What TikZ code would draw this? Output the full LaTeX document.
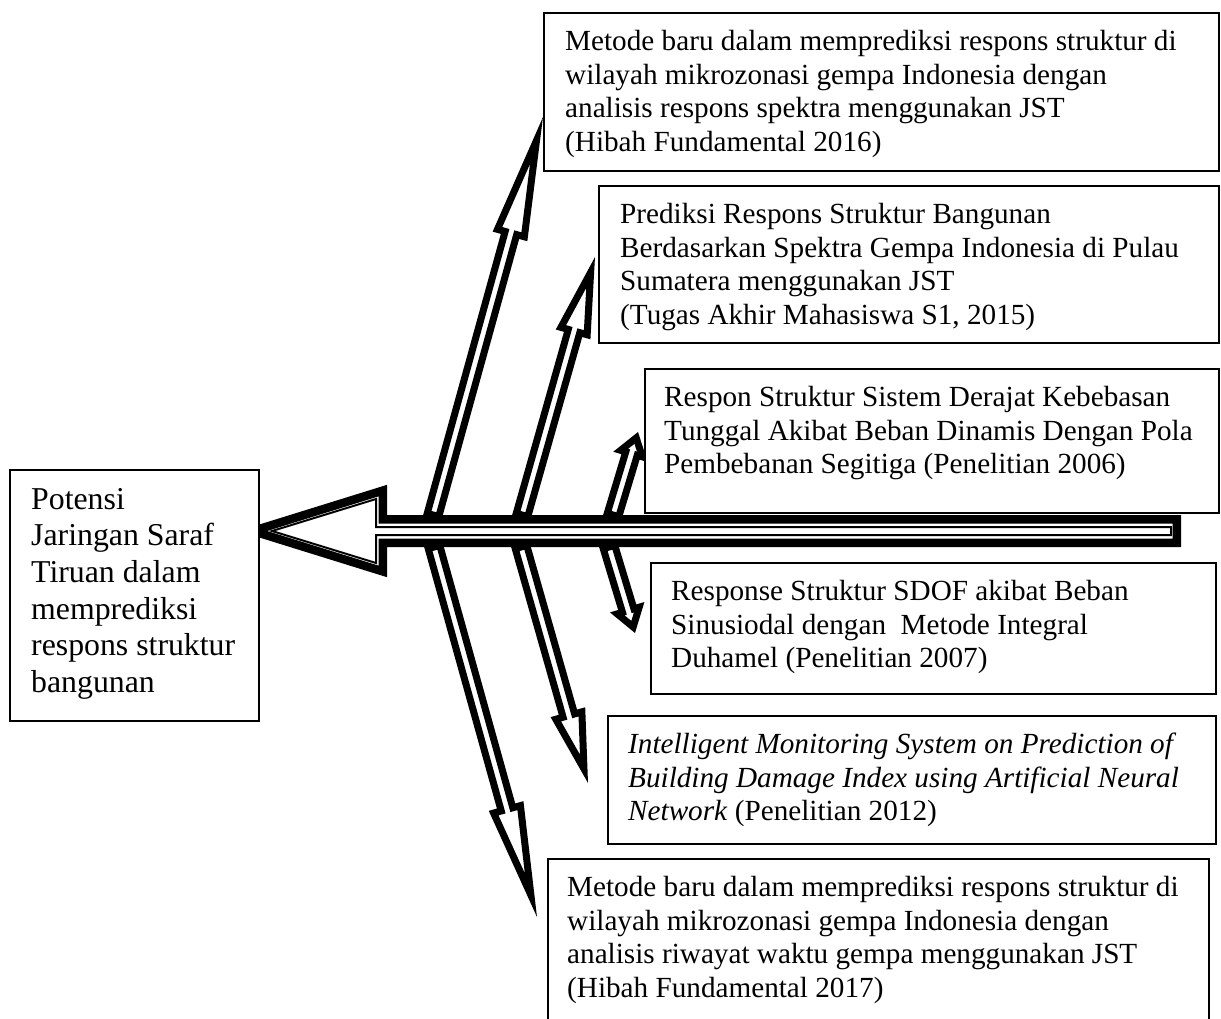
\documentclass[tikz,border=0pt]{standalone}
\usepackage{fontspec}
\setmainfont{Liberation Serif}
\usetikzlibrary{calc}
\tikzset{
  boxnode/.style={draw=black, line width=2pt, fill=white, inner sep=0pt, anchor=north west},
  txtR/.style={inner sep=0pt, anchor=north west, align=left, font=\fontsize{29.2}{33.6}\selectfont},
  txtL/.style={inner sep=0pt, anchor=north west, align=left, font=\fontsize{31.8}{36.6}\selectfont},
  branchline/.style={draw=black, line width=7pt, fill=white, line join=miter},
  mainthick/.style={draw=black, line width=8.5pt, fill=white, line join=miter},
  mainthin/.style={draw=black, line width=2pt, line join=miter},
  blk/.pic={
    \pgfmathsetmacro\bkD{#1}
    \pgfmathsetmacro\bkL{0.3*\bkD}
    \pgfmathsetmacro\bkA{atan(18/\bkL)}
    \pgfmathsetmacro\bkT{\bkD-3.5/sin(\bkA)}
    \pgfmathsetmacro\bkX{\bkD-\bkL+3.5}
    \pgfmathsetmacro\bkH{(\bkL-3.5)*tan(\bkA)-3.5/cos(\bkA)}
    \draw[branchline] (0,6) -- (\bkX,6) -- (\bkX,\bkH) -- (\bkT,0) -- (\bkX,-\bkH) -- (\bkX,-6) -- (0,-6) -- cycle;
  }
}
\begin{document}
\begin{tikzpicture}[x=1pt,y=-1pt]
\useasboundingbox (0,0) rectangle (1221,1018);
\clip (0,0) rectangle (1221,1018);

% branch arrow anchor points
\coordinate (a1b) at (433,515);  \coordinate (a1t) at (543,117);
\coordinate (a2b) at (522,515);  \coordinate (a2t) at (595,257);
\coordinate (a3b) at (613,515);  \coordinate (a3t) at (638,432);
\coordinate (d1b) at (434,547);  \coordinate (d1t) at (537,917);
\coordinate (d2b) at (521,547);  \coordinate (d2t) at (588,783);
\coordinate (d3b) at (609,547);  \coordinate (d3t) at (635,633);

\path let \p1=($(a1t)-(a1b)$), \n1={veclen(\x1,\y1)}, \n2={atan2(\y1,\x1)} in (a1b) pic[rotate=\n2]{blk=\n1};
\path let \p1=($(a2t)-(a2b)$), \n1={veclen(\x1,\y1)}, \n2={atan2(\y1,\x1)} in (a2b) pic[rotate=\n2]{blk=\n1};
\path let \p1=($(a3t)-(a3b)$), \n1={veclen(\x1,\y1)}, \n2={atan2(\y1,\x1)} in (a3b) pic[rotate=\n2]{blk=\n1};
\path let \p1=($(d1t)-(d1b)$), \n1={veclen(\x1,\y1)}, \n2={atan2(\y1,\x1)} in (d1b) pic[rotate=\n2]{blk=\n1};
\path let \p1=($(d2t)-(d2b)$), \n1={veclen(\x1,\y1)}, \n2={atan2(\y1,\x1)} in (d2b) pic[rotate=\n2]{blk=\n1};
\path let \p1=($(d3t)-(d3b)$), \n1={veclen(\x1,\y1)}, \n2={atan2(\y1,\x1)} in (d3b) pic[rotate=\n2]{blk=\n1};

% main double-line arrow
\draw[mainthick] (252.8,531) -- (382.75,490.6) -- (382.75,519.25) -- (1176.75,519.25)
  -- (1176.75,542.75) -- (382.75,542.75) -- (382.75,571.4) -- cycle;
\draw[mainthin] (272,531) -- (376,499) -- (376,527) -- (1171,527)
  -- (1171,535) -- (376,535) -- (376,563) -- cycle;

% boxes
\node[boxnode, minimum width=249pt, minimum height=251pt] (bl) at (9,469) {};
\node[boxnode, minimum width=675pt, minimum height=158pt] (b1) at (543,12) {};
\node[boxnode, minimum width=620pt, minimum height=157pt] (b2) at (598,185) {};
\node[boxnode, minimum width=574pt, minimum height=144pt] (b3) at (644,368) {};
\node[boxnode, minimum width=565pt, minimum height=131pt] (b4) at (650,562) {};
\node[boxnode, minimum width=608pt, minimum height=128pt] (b5) at (607,715) {};
\node[boxnode, minimum width=661pt, minimum height=190pt] (b6) at (547,858) {};

% texts
\node[txtL] (tl) at ($(bl.north west)+(22,14.4)$) {\strut Potensi\\\strut Jaringan Saraf\\\strut Tiruan dalam\\\strut memprediksi\\\strut respons struktur\\\strut bangunan};
\node[txtR] (t1) at ($(b1.north west)+(22,15)$) {\strut Metode baru dalam memprediksi respons struktur di\\\strut wilayah mikrozonasi gempa Indonesia dengan\\\strut analisis respons spektra menggunakan JST\\\strut (Hibah Fundamental 2016)};
\node[txtR] (t2) at ($(b2.north west)+(22,15)$) {\strut Prediksi Respons Struktur Bangunan\\\strut Berdasarkan Spektra Gempa Indonesia di Pulau\\\strut Sumatera menggunakan JST\\\strut (Tugas Akhir Mahasiswa S1, 2015)};
\node[txtR] (t3) at ($(b3.north west)+(20,15)$) {\strut Respon Struktur Sistem Derajat Kebebasan\\\strut Tunggal Akibat Beban Dinamis Dengan Pola\\\strut Pembebanan Segitiga (Penelitian 2006)};
\node[txtR] (t4) at ($(b4.north west)+(21,15)$) {\strut Response Struktur SDOF akibat Beban\\\strut Sinusiodal dengan\ \ Metode Integral\\\strut Duhamel (Penelitian 2007)};
\node[txtR] (t5) at ($(b5.north west)+(21,15)$) {\strut\textit{Intelligent Monitoring System on Prediction of}\\\strut\textit{Building Damage Index using Artificial Neural}\\\strut\textit{Network} (Penelitian 2012)};
\node[txtR] (t6) at ($(b6.north west)+(20,15)$) {\strut Metode baru dalam memprediksi respons struktur di\\\strut wilayah mikrozonasi gempa Indonesia dengan\\\strut analisis riwayat waktu gempa menggunakan JST\\\strut (Hibah Fundamental 2017)};
\end{tikzpicture}
\end{document}
